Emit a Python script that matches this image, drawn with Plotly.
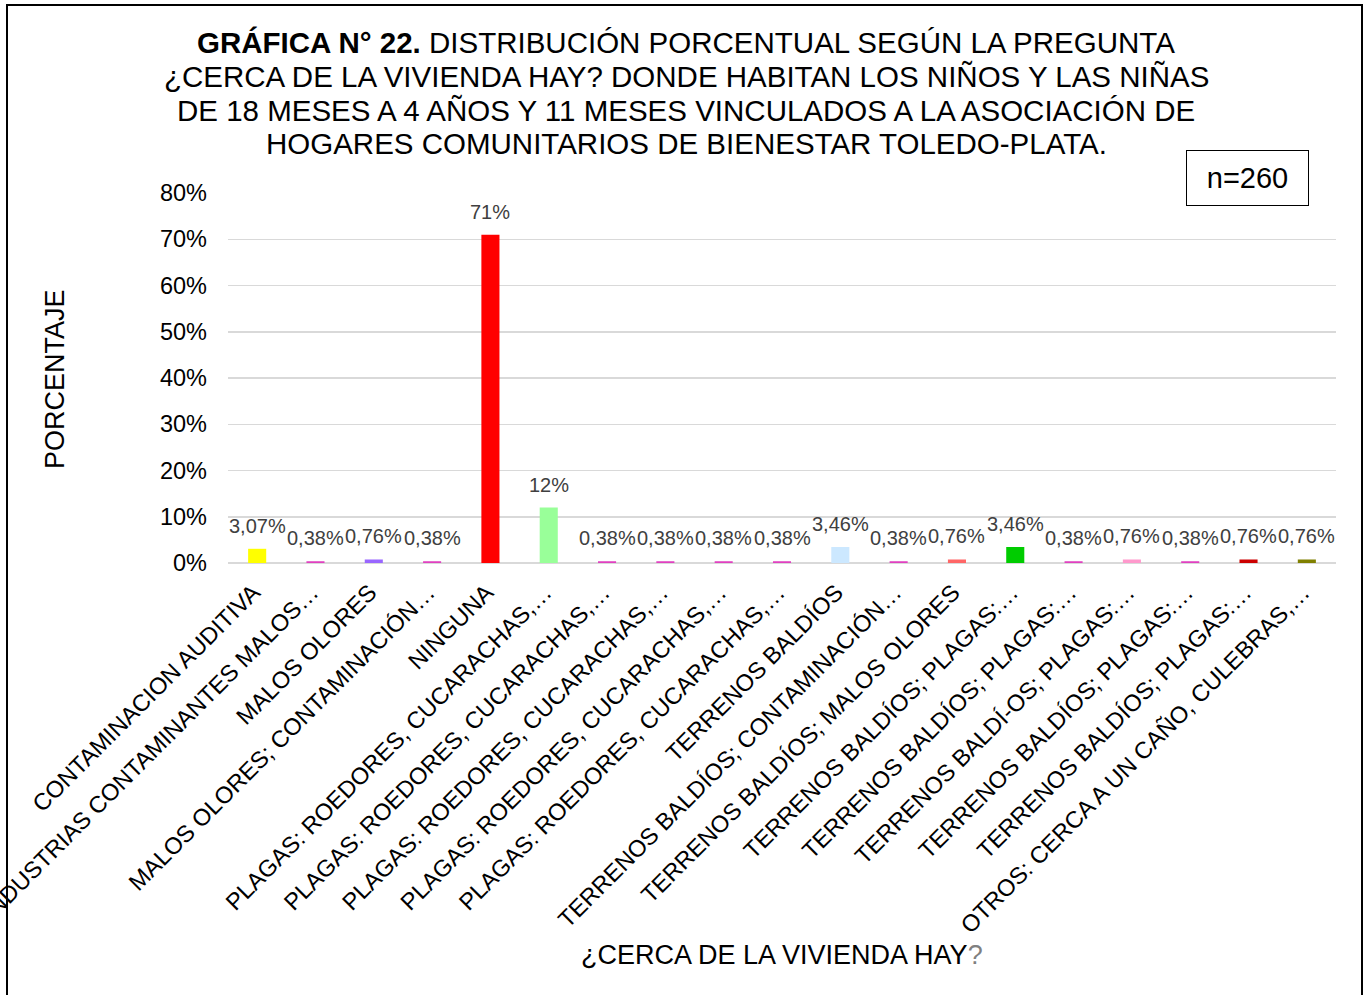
import plotly.graph_objects as go

categories = [
    "CONTAMINACION AUDITIVA",
    "INDUSTRIAS CONTAMINANTES MALOS…",
    "MALOS OLORES",
    "MALOS OLORES; CONTAMINACIÓN…",
    "NINGUNA",
    "PLAGAS: ROEDORES, CUCARACHAS,…",
    "PLAGAS: ROEDORES, CUCARACHAS,…",
    "PLAGAS: ROEDORES, CUCARACHAS,…",
    "PLAGAS: ROEDORES, CUCARACHAS,…",
    "PLAGAS: ROEDORES, CUCARACHAS,…",
    "TERRENOS BALDÍOS",
    "TERRENOS BALDÍOS; CONTAMINACIÓN…",
    "TERRENOS BALDÍOS; MALOS OLORES",
    "TERRENOS BALDÍOS; PLAGAS:…",
    "TERRENOS BALDÍOS; PLAGAS:…",
    "TERRENOS BALDÍ-OS; PLAGAS:…",
    "TERRENOS BALDÍOS; PLAGAS:…",
    "TERRENOS BALDÍOS; PLAGAS:…",
    "OTROS: CERCA A UN CAÑO, CULEBRAS,…",
]
values = [3.07, 0.38, 0.76, 0.38, 71, 12, 0.38, 0.38, 0.38, 0.38,
          3.46, 0.38, 0.76, 3.46, 0.38, 0.76, 0.38, 0.76, 0.76]
value_labels = ["3,07%", "0,38%", "0,76%", "0,38%", "71%", "12%", "0,38%", "0,38%",
                "0,38%", "0,38%", "3,46%", "0,38%", "0,76%", "3,46%", "0,38%",
                "0,76%", "0,38%", "0,76%", "0,76%"]
colors = ["#FFFF00", "#E040C0", "#9966FF", "#E040C0", "#FF0000", "#99FF99",
          "#E040C0", "#E040C0", "#E040C0", "#E040C0", "#CCE8FF", "#E040C0",
          "#FF6666", "#00CC00", "#E040C0", "#FF99CC", "#E040C0", "#CC0000", "#808000"]
y_ticks = [0, 10, 20, 30, 40, 50, 60, 70, 80]
title_lines = [
    "<b>GRÁFICA N° 22.</b> DISTRIBUCIÓN PORCENTUAL SEGÚN LA PREGUNTA",
    "¿CERCA DE LA VIVIENDA HAY? DONDE HABITAN LOS NIÑOS Y LAS NIÑAS",
    "DE 18 MESES A 4 AÑOS Y 11 MESES VINCULADOS A LA ASOCIACIÓN DE",
    "HOGARES COMUNITARIOS DE BIENESTAR TOLEDO-PLATA.",
]

W, H = 1366, 995
ML, MT = 228, 193
MR = W - 1336
MB = H - 563
PW, PH = W - ML - MR, H - MT - MB


def px_x(p):
    return (p - ML) / PW


def px_y(p):
    return (H - MB - p) / PH


FONT = "Liberation Sans, Arial, sans-serif"
xs = list(range(len(categories)))

fig = go.Figure()
fig.add_trace(go.Bar(
    x=xs, y=values, marker=dict(color=colors, line=dict(width=0)),
    width=0.31, hoverinfo="skip",
))

for xi, v, t in zip(xs, values, value_labels):
    fig.add_annotation(x=xi, y=v, text=t, showarrow=False, yanchor="bottom",
                       yshift=10, font=dict(family=FONT, size=20, color="#404040"))

for i, line in enumerate(title_lines):
    fig.add_annotation(
        xref="paper", yref="paper", x=px_x(686), y=px_y(43 + i * 33.5),
        xanchor="center", yanchor="middle", showarrow=False, text=line,
        font=dict(family=FONT, size=29.5, color="black"),
    )

fig.add_annotation(
    xref="paper", yref="paper", x=px_x(782), y=px_y(955), xanchor="center", yanchor="middle",
    showarrow=False,
    text="¿CERCA DE LA VIVIENDA HAY<span style='color:#808080'>?</span>",
    font=dict(family=FONT, size=27, color="black"),
)

fig.add_annotation(
    xref="paper", yref="paper", x=px_x(55), y=px_y(379), xanchor="center", yanchor="middle",
    showarrow=False, textangle=-90, text="PORCENTAJE",
    font=dict(family=FONT, size=27, color="black"),
)

fig.add_annotation(
    xref="paper", yref="paper", x=px_x(1247), y=px_y(178), xanchor="center", yanchor="middle",
    showarrow=False, text="n=260", width=121, height=54, bgcolor="white",
    bordercolor="black", borderwidth=1, borderpad=0,
    font=dict(family=FONT, size=29, color="black"),
)

fig.add_shape(type="rect", xref="paper", yref="paper",
              x0=px_x(7), x1=px_x(1362), y0=px_y(1010), y1=px_y(5),
              line=dict(color="black", width=2), fillcolor="rgba(0,0,0,0)", layer="above")

fig.update_layout(
    width=W, height=H,
    margin=dict(l=ML, r=MR, t=MT, b=MB, autoexpand=False),
    paper_bgcolor="white", plot_bgcolor="white",
    showlegend=False,
    font=dict(family=FONT, color="black"),
    xaxis=dict(
        range=[-0.5, len(categories) - 0.5], tickmode="array", tickvals=xs, ticktext=categories,
        tickangle=-45, tickfont=dict(family=FONT, size=23.5, color="black"), showgrid=False,
        zeroline=False, showline=False, ticks="", automargin=False,
        ticklabelstandoff=10, ticklabelshift=-4, ticklabeloverflow="allow",
    ),
    yaxis=dict(
        range=[0, 80], tickmode="array", tickvals=y_ticks,
        ticktext=[f"{t}%" for t in y_ticks], tickfont=dict(family=FONT, size=23.5, color="black"),
        showgrid=True, gridcolor="#D9D9D9", gridwidth=1.5, zeroline=True,
        zerolinecolor="#D9D9D9", zerolinewidth=1.5, showline=False, ticks="",
        ticklabelstandoff=20, automargin=False,
    ),
)

fig.write_html(
    "out.html",
    config={"displayModeBar": False, "staticPlot": True},
    post_script="document.body.style.margin='0';document.body.style.overflow='hidden';",
)
